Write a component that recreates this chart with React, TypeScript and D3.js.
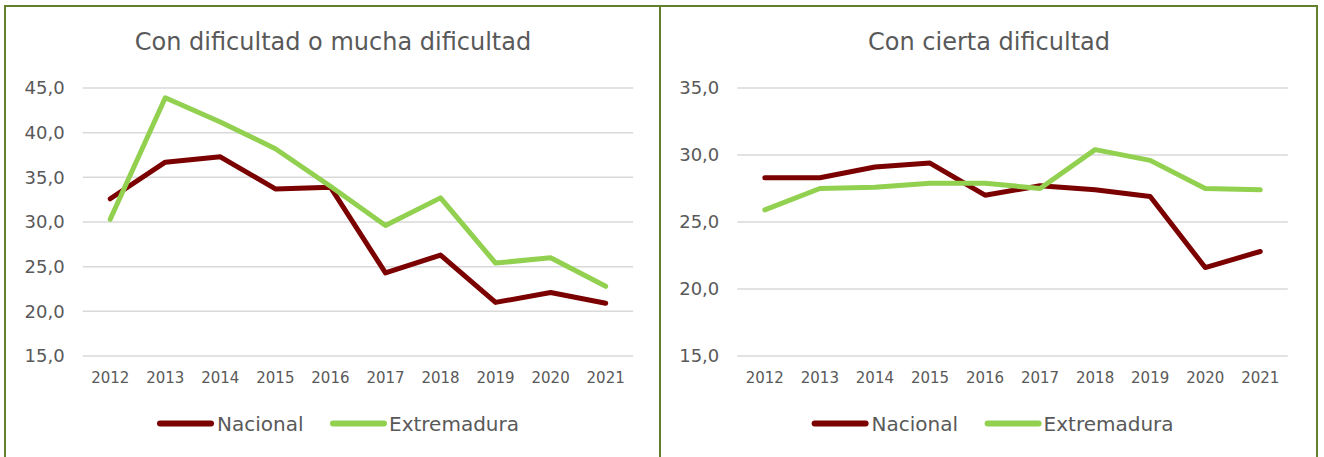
import React from "react";
import * as d3 from "d3";

const years = ["2012", "2013", "2014", "2015", "2016", "2017", "2018", "2019", "2020", "2021"];

const leftTitle = "Con dificultad o mucha dificultad";
const leftNacional = [32.6, 36.7, 37.3, 33.7, 33.9, 24.3, 26.3, 21.0, 22.1, 20.9];
const leftExtremadura = [30.3, 43.9, 41.2, 38.2, 34.0, 29.6, 32.7, 25.4, 26.0, 22.8];
const leftTicks = [15, 20, 25, 30, 35, 40, 45];

const rightTitle = "Con cierta dificultad";
const rightNacional = [28.3, 28.3, 29.1, 29.4, 27.0, 27.7, 27.4, 26.9, 21.6, 22.8];
const rightExtremadura = [25.9, 27.5, 27.6, 27.9, 27.9, 27.5, 30.4, 29.6, 27.5, 27.4];
const rightTicks = [15, 20, 25, 30, 35];

const seriesNames = ["Nacional", "Extremadura"];
const seriesColors = ["#7b0000", "#92d050"];

const FONT = "'DejaVu Sans', Verdana, sans-serif";
const TEXT = "#595959";
const BORDER = "#617f2c";

type PanelProps = {
  x0: number;
  title: string;
  titleCx: number;
  nacional: number[];
  extremadura: number[];
  ticks: number[];
};

function Panel({ x0, title, titleCx, nacional, extremadura, ticks }: PanelProps) {
  const plotLeft = x0 + 78.7;
  const plotRight = plotLeft + 550.5;
  const top = 88;
  const bottom = 356;
  const x = d3.scaleBand<string>().domain(years).range([plotLeft, plotRight]);
  const y = d3
    .scaleLinear()
    .domain([d3.min(ticks) as number, d3.max(ticks) as number])
    .range([bottom, top]);
  const line = d3
    .line<number>()
    .x((_, i) => (x(years[i]) as number) + x.bandwidth() / 2)
    .y((d) => y(d));
  const fmt = (v: number) => v.toFixed(1).replace(".", ",");
  const data = [nacional, extremadura];
  const legendX = x0 + 153;
  const legendItems = [
    { lx: legendX, tx: legendX + 60 },
    { lx: legendX + 173, tx: legendX + 232 },
  ];
  return (
    <g>
      <text x={titleCx} y={50} textAnchor="middle" fontSize={24} fill={TEXT} fontFamily={FONT}>
        {title}
      </text>
      {ticks.map((t) => (
        <g key={t}>
          <line x1={plotLeft} x2={plotRight} y1={y(t)} y2={y(t)} stroke="#d9d9d9" strokeWidth={1.5} />
          <text
            x={plotLeft - 18}
            y={y(t)}
            dy="0.36em"
            textAnchor="end"
            fontSize={18}
            fill={TEXT}
            fontFamily={FONT}
          >
            {fmt(t)}
          </text>
        </g>
      ))}
      {years.map((yr) => (
        <text
          key={yr}
          x={(x(yr) as number) + x.bandwidth() / 2}
          y={383}
          textAnchor="middle"
          fontSize={15}
          fill={TEXT}
          fontFamily={FONT}
        >
          {yr}
        </text>
      ))}
      {data.map((s, i) => (
        <path
          key={i}
          d={line(s) as string}
          fill="none"
          stroke={seriesColors[i]}
          strokeWidth={5}
          strokeLinecap="round"
          strokeLinejoin="round"
        />
      ))}
      {legendItems.map((it, i) => (
        <g key={i}>
          <line
            x1={it.lx + 3}
            x2={it.lx + 54}
            y1={423.5}
            y2={423.5}
            stroke={seriesColors[i]}
            strokeWidth={6}
            strokeLinecap="round"
          />
          <text x={it.tx} y={423.5} dy="0.36em" fontSize={20} fill={TEXT} fontFamily={FONT}>
            {seriesNames[i]}
          </text>
        </g>
      ))}
    </g>
  );
}

export default function App() {
  return (
    <svg
      width={1324}
      height={457}
      style={{ position: "absolute", left: 0, top: 0, background: "#ffffff" }}
    >
      <rect x={0} y={0} width={1324} height={457} fill="#ffffff" />
      <rect x={5} y={6} width={655} height={520} fill="none" stroke={BORDER} strokeWidth={2} />
      <rect x={660} y={6} width={657} height={520} fill="none" stroke={BORDER} strokeWidth={2} />
      <Panel
        x0={4}
        title={leftTitle}
        titleCx={333}
        nacional={leftNacional}
        extremadura={leftExtremadura}
        ticks={leftTicks}
      />
      <Panel
        x0={658.6}
        title={rightTitle}
        titleCx={989}
        nacional={rightNacional}
        extremadura={rightExtremadura}
        ticks={rightTicks}
      />
    </svg>
  );
}
